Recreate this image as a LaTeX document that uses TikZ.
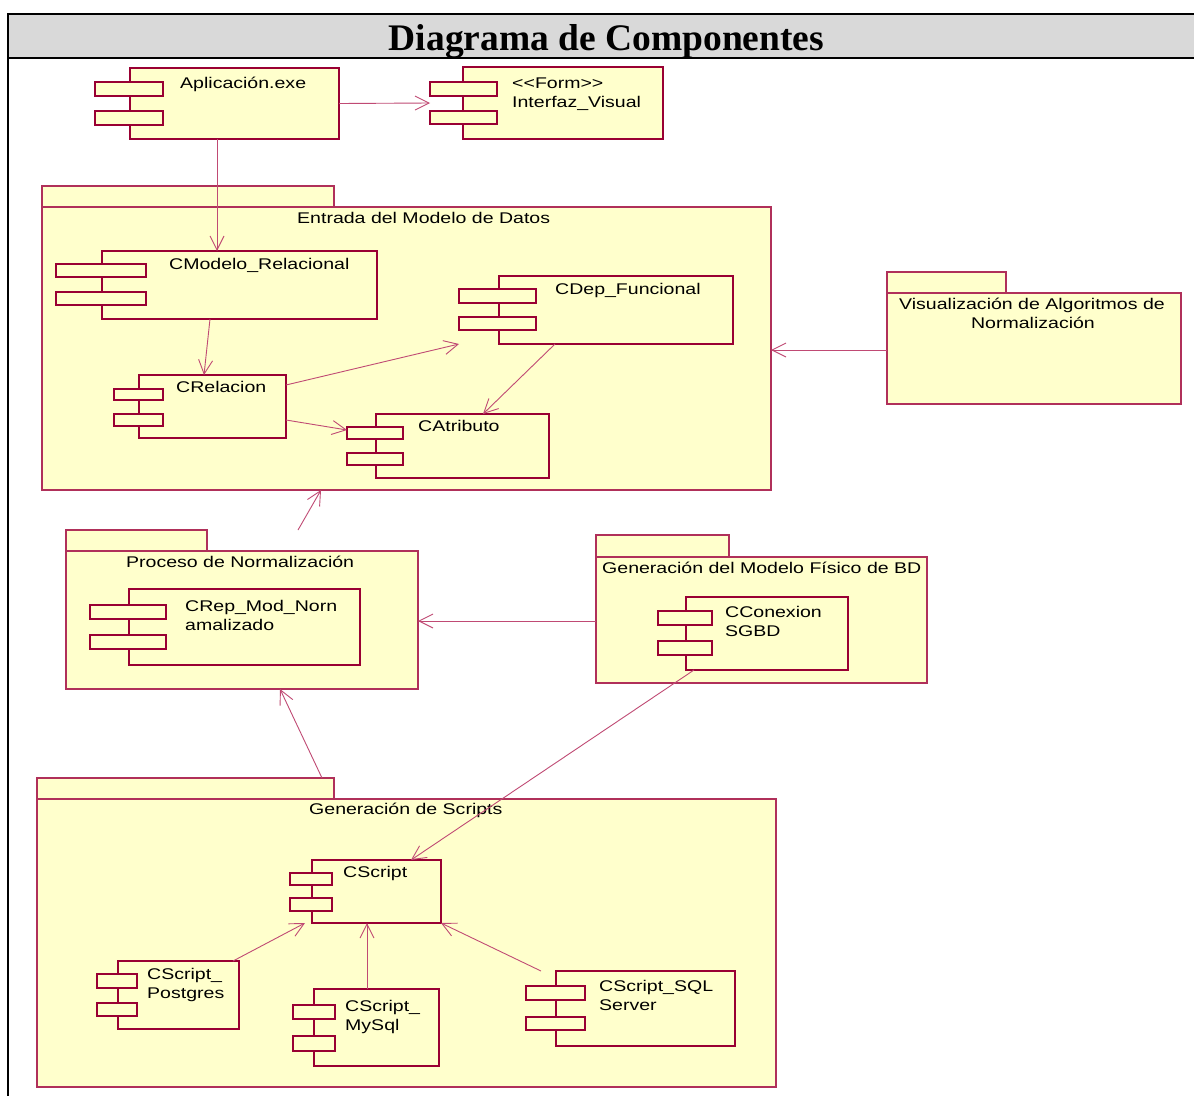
\documentclass[tikz,border=0pt]{standalone}
\usepackage{fontspec}
\setmainfont{Liberation Serif}
\newfontfamily\rose[FakeStretch=1.26]{Liberation Sans}
\usetikzlibrary{arrows.meta}
\definecolor{pkgfill}{HTML}{FFFFCC}
\definecolor{compline}{HTML}{990033}
\definecolor{pkgline}{HTML}{B0305A}
\definecolor{conline}{HTML}{C04A74}
\definecolor{titlefill}{HTML}{D9D9D9}
\newcommand\mkbox[6]{\node[#6, minimum width={#4-#2}, minimum height={#5-#3}, anchor=north west] (#1) at (#2,#3) {};}
\begin{document}
\begin{tikzpicture}[x=1pt,y=-1pt,
  cbox/.style={draw=compline, fill=pkgfill, line width=1.8pt, inner sep=0, outer sep=0, rectangle},
  cport/.style={draw=compline, fill=pkgfill, line width=1.6pt, inner sep=0, outer sep=0, rectangle},
  pkg/.style={draw=pkgline, fill=pkgfill, line width=1.2pt, inner sep=0, outer sep=0, rectangle},
  txt/.style={font=\rose\fontsize{15.5}{18}\selectfont, inner sep=0, anchor=base west, text=black},
  ctxt/.style={txt, anchor=base},
  dep/.style={draw=conline, line width=0.9pt, -{Straight Barb[length=14pt,width=14pt]}}]
\clip (0,0) rectangle (1194,1095);
\fill[white] (0,0) rectangle (1194,1095);
% frame
\draw[black, line width=2.5pt, fill=titlefill] (8,14) rectangle (1210,58);
\draw[black, line width=2.5pt] (8,14) -- (8,1110);
\node[font=\bfseries\fontsize{37.5}{40}\selectfont, inner sep=0, anchor=base] (title) at (606.5,50) {Diagrama de Componentes};

% packages
\mkbox{enttab}{42}{186}{334}{207}{pkg}
\mkbox{ent}{42}{207}{771}{490}{pkg}
\node[txt] (lent) at (297,223) {Entrada del Modelo de Datos};

\mkbox{vistab}{887}{272}{1006}{293}{pkg}
\mkbox{vis}{887}{293}{1181}{404}{pkg}
\node[ctxt] (lvis1) at (1032,309) {Visualización de Algoritmos de};
\node[ctxt] (lvis2) at (1033,328) {Normalización};

\mkbox{proctab}{66}{530}{207}{551}{pkg}
\mkbox{proc}{66}{551}{418}{689}{pkg}
\node[txt] (lproc) at (126,567) {Proceso de Normalización};

\mkbox{gfistab}{596}{535}{729}{557}{pkg}
\mkbox{gfis}{596}{557}{927}{683}{pkg}
\node[txt] (lgfis) at (602,573) {Generación del Modelo Físico de BD};

\mkbox{gsctab}{37}{778}{334}{799}{pkg}
\mkbox{gsc}{37}{799}{776}{1087}{pkg}
\node[txt] (lgsc) at (309,814) {Generación de Scripts};

% components
\mkbox{app}{130}{68}{339}{139}{cbox}
\mkbox{appa}{95}{82}{163}{96}{cport}
\mkbox{appb}{95}{111}{163}{125}{cport}
\node[txt] (tapp) at (180,88) {Aplicación.exe};

\mkbox{intf}{463}{67}{663}{139}{cbox}
\mkbox{intfa}{430}{82}{497}{96}{cport}
\mkbox{intfb}{430}{111}{497}{124}{cport}
\node[txt] (tintf1) at (512,88) {<<Form>>};
\node[txt] (tintf2) at (512,107) {Interfaz\_Visual};

\mkbox{cmod}{102}{251}{377}{319}{cbox}
\mkbox{cmoda}{56}{264}{146}{277}{cport}
\mkbox{cmodb}{56}{292}{146}{305}{cport}
\node[txt] (tcmod) at (169,269) {CModelo\_Relacional};

\mkbox{cdep}{499}{276}{733}{344}{cbox}
\mkbox{cdepa}{459}{289}{536}{303}{cport}
\mkbox{cdepb}{459}{317}{536}{330}{cport}
\node[txt] (tcdep) at (555,294) {CDep\_Funcional};

\mkbox{crel}{139}{375}{286}{438}{cbox}
\mkbox{crela}{114}{389}{163}{400}{cport}
\mkbox{crelb}{114}{414}{163}{426}{cport}
\node[txt] (tcrel) at (176,392) {CRelacion};

\mkbox{catr}{376}{414}{549}{478}{cbox}
\mkbox{catra}{347}{427}{403}{439}{cport}
\mkbox{catrb}{347}{453}{403}{465}{cport}
\node[txt] (tcatr) at (418,431) {CAtributo};

\mkbox{crep}{129}{589}{360}{665}{cbox}
\mkbox{crepa}{90}{605}{166}{619}{cport}
\mkbox{crepb}{90}{635}{166}{649}{cport}
\node[txt] (tcrep1) at (185,611) {CRep\_Mod\_Norn};
\node[txt] (tcrep2) at (185,630) {amalizado};

\mkbox{ccon}{686}{597}{848}{670}{cbox}
\mkbox{ccona}{658}{611}{712}{625}{cport}
\mkbox{cconb}{658}{641}{712}{655}{cport}
\node[txt] (tccon1) at (725,617) {CConexion};
\node[txt] (tccon2) at (725,636) {SGBD};

\mkbox{cscr}{312}{860}{441}{923}{cbox}
\mkbox{cscra}{290}{873}{332}{885}{cport}
\mkbox{cscrb}{290}{898}{332}{911}{cport}
\node[txt] (tcscr) at (343,877) {CScript};

\mkbox{cpg}{118}{961}{239}{1029}{cbox}
\mkbox{cpga}{97}{974}{137}{988}{cport}
\mkbox{cpgb}{97}{1003}{137}{1016}{cport}
\node[txt] (tcpg1) at (147,979) {CScript\_};
\node[txt] (tcpg2) at (147,998) {Postgres};

\mkbox{cmy}{314}{989}{439}{1066}{cbox}
\mkbox{cmya}{293}{1005}{335}{1019}{cport}
\mkbox{cmyb}{293}{1036}{335}{1051}{cport}
\node[txt] (tcmy1) at (345,1011) {CScript\_};
\node[txt] (tcmy2) at (345,1030) {MySql};

\mkbox{csql}{556}{971}{735}{1046}{cbox}
\mkbox{csqla}{526}{986}{585}{1000}{cport}
\mkbox{csqlb}{526}{1017}{585}{1030}{cport}
\node[txt] (tcsql1) at (599,991) {CScript\_SQL};
\node[txt] (tcsql2) at (599,1010) {Server};

% connectors
\draw[dep] (app.east) -- (intf.west -| intfa.west);
\draw[dep] (app.south -| 217,0) -- (cmod.north -| 217,0);
\draw[dep] (cmod.south -| 210,0) -- (crel.north -| 204,0);
\draw[dep] (crel.east |- 0,385) -- (cdepb.west |- cdep.south);
\draw[dep] (crel.east |- 0,420) -- (catra.west |- 0,430);
\draw[dep] (cdep.south -| 555,0) -- (catr.north -| 483,0);
\draw[dep] (vis.west |- 0,350) -- (ent.east |- 0,350);
\draw[dep] (proctab.north -| 298,0) -- (ent.south -| 321,0);
\draw[dep] (gfis.west |- 0,621) -- (proc.east |- 0,621);
\draw[dep] (ccon.south -| 694,0) -- (cscr.north -| 411,0);
\draw[dep] (gsctab.north -| 322,0) -- (proc.south -| 280,0);
\draw[dep] (cpg.north -| 233,0) -- (cscr.south -| 305,0);
\draw[dep] (cmy.north -| 367,0) -- (cscr.south -| 367,0);
\draw[dep] (csql.north -| 541,0) -- (cscr.south east);
\end{tikzpicture}
\end{document}
